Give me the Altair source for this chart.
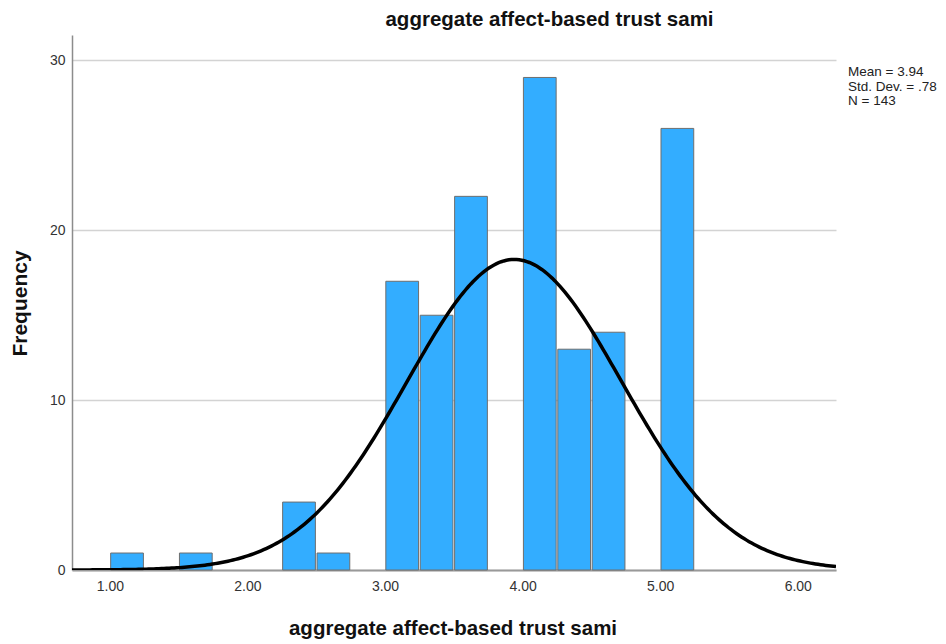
import altair as alt
import numpy as np
import pandas as pd

# Histogram bins (lower edge of each 0.25-wide bin) and their frequencies
bin_lo = [1.00, 1.50, 2.25, 2.50, 3.00, 3.25, 3.50, 4.00, 4.25, 4.50, 5.00]
counts = [1, 1, 4, 1, 17, 15, 22, 29, 13, 14, 26]
BIN_WIDTH = 0.25

# Summary statistics shown beside the plot
mean_val = 3.94
sd_val = 0.78
n_obs = 143
stat_lines = ["Mean = 3.94", "Std. Dev. = .78", "N = 143"]

x_ticks = [1, 2, 3, 4, 5, 6]
y_ticks = [0, 10, 20, 30]
X_DOMAIN = [0.725, 6.278]
Y_DOMAIN = [0, 31.5]
TITLE = "aggregate affect-based trust sami"
FONT = "Liberation Sans"
BAR_GAP = 0.006  # small visual inset between neighbouring bars

bars_df = pd.DataFrame({"lo": bin_lo, "count": counts})
bars_df["hi"] = bars_df["lo"] + BIN_WIDTH

# Fitted normal curve scaled to histogram counts
xs = np.linspace(X_DOMAIN[0], X_DOMAIN[1], 300)
ys = n_obs * BIN_WIDTH * np.exp(-0.5 * ((xs - mean_val) / sd_val) ** 2) / (sd_val * np.sqrt(2 * np.pi))
curve_df = pd.DataFrame({"x": xs, "y": ys})

x_scale = alt.Scale(domain=X_DOMAIN, nice=False, zero=False)
y_scale = alt.Scale(domain=Y_DOMAIN, nice=False)

x_axis = alt.Axis(
    values=x_ticks, format=".2f", grid=False, ticks=False,
    labelFont=FONT, labelFontSize=14, labelColor="#333333", labelPadding=9,
    domainColor="#999999", domainWidth=2,
    title=TITLE, titleFont=FONT, titleFontSize=20.5, titleFontWeight="bold",
    titleColor="#111111", titleX=380.5, titleY=58, titleBaseline="middle",
    titleAlign="center",
)
y_axis = alt.Axis(
    values=y_ticks, grid=True, gridColor="#d3d3d3", gridWidth=1.5, ticks=False,
    labelFont=FONT, labelFontSize=14, labelColor="#333333", labelPadding=7,
    domainColor="#8c8c8c", domainWidth=1.5,
    title="Frequency", titleFont=FONT, titleFontSize=21, titleFontWeight="bold",
    titleColor="#111111", titleX=-51.5, titleY=268, titleAngle=270,
    titleBaseline="middle", titleAlign="center",
)

bars = alt.Chart(bars_df).transform_calculate(
    x0=f"datum.lo + {BAR_GAP}", x1=f"datum.hi - {BAR_GAP}"
).mark_bar(color="#33adff", stroke="#6e6e6e", strokeWidth=1).encode(
    x=alt.X("x0:Q", scale=x_scale, axis=x_axis),
    x2="x1:Q",
    y=alt.Y("count:Q", scale=y_scale, axis=y_axis),
    y2=alt.datum(0),
)

curve = alt.Chart(curve_df).mark_line(color="#000000", strokeWidth=3.5, clip=True).encode(
    x=alt.X("x:Q", scale=x_scale),
    y=alt.Y("y:Q", scale=y_scale),
)

# Statistics box to the right of the plot, one line per statistic
stats = alt.Chart(pd.DataFrame({"t": ["\n".join(stat_lines)]})).mark_text(
    align="left", baseline="top", font=FONT, fontSize=13.5, color="#222222",
    lineBreak="\n", lineHeight=14.5,
).encode(x=alt.value(776), y=alt.value(30), text="t:N")

title_mark = alt.Chart(pd.DataFrame({"t": [TITLE]})).mark_text(
    align="center", baseline="middle", font=FONT, fontSize=20.5,
    fontWeight="bold", color="#111111",
).encode(x=alt.value(477.5), y=alt.value(-15), text="t:N")

chart = alt.layer(bars, curve, stats, title_mark).properties(
    width=764,
    height=535,
    autosize=alt.AutoSizeParams(type="none"),
    padding={"left": 72, "top": 35, "right": 110, "bottom": 74},
    background="#ffffff",
).configure_view(stroke=None)

chart.save("out.html", embed_options={"renderer": "svg", "actions": False})
